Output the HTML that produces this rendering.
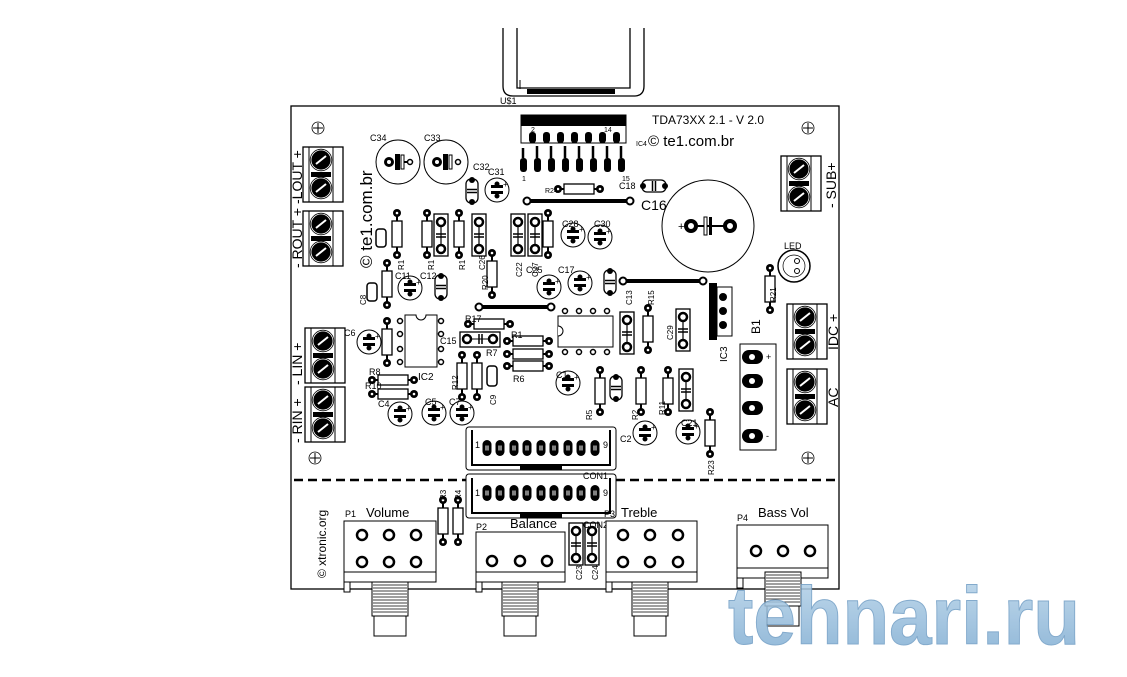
<!DOCTYPE html>
<html><head><meta charset="utf-8"><style>
html,body{margin:0;padding:0;background:#fff;}
svg{display:block;}
text{font-family:"Liberation Sans",sans-serif;fill:#000;}
</style></head><body>
<svg width="1127" height="677" viewBox="0 0 1127 677" xmlns="http://www.w3.org/2000/svg">
<defs>
<g id="pad"><circle r="4" fill="#000"/><circle r="1.3" fill="#fff"/></g>
<g id="rv"><line x1="0" y1="0" x2="0" y2="42" stroke="#000" stroke-width="2"/><rect x="-5" y="8" width="10" height="26" fill="#fff" stroke="#000" stroke-width="1.3"/><use href="#pad" y="0"/><use href="#pad" y="42"/></g>
<g id="rh"><line x1="0" y1="0" x2="42" y2="0" stroke="#000" stroke-width="2"/><rect x="6" y="-5" width="30" height="10" fill="#fff" stroke="#000" stroke-width="1.3"/><use href="#pad" x="0"/><use href="#pad" x="42"/></g>
<g id="cv"><rect x="-7" y="-4" width="14" height="42" fill="#fff" stroke="#000" stroke-width="1.3"/><circle cy="4" r="4" fill="#fff" stroke="#000" stroke-width="2.5"/><circle cy="31" r="4" fill="#fff" stroke="#000" stroke-width="2.5"/><line x1="0" y1="8" x2="0" y2="27" stroke="#000" stroke-width="1.2"/><line x1="-5" y1="16" x2="5" y2="16" stroke="#000" stroke-width="1.5"/><line x1="-5" y1="19" x2="5" y2="19" stroke="#000" stroke-width="1.5"/></g>
<g id="el"><circle r="12" fill="#fff" stroke="#000" stroke-width="1"/><rect x="-6" y="-5" width="12" height="3" fill="#000"/><rect x="-6" y="1" width="12" height="3" fill="#000"/><circle cy="-6" r="2.5" fill="#000"/><circle cy="6" r="2.5" fill="#000"/><text x="6" y="-3" font-size="8">+</text></g>
<g id="sc"><rect x="-6" y="-12" width="12" height="24" rx="5" fill="#fff" stroke="#000" stroke-width="1.3"/><line x1="-5" y1="-1.5" x2="5" y2="-1.5" stroke="#000" stroke-width="1.5"/><line x1="-5" y1="1.5" x2="5" y2="1.5" stroke="#000" stroke-width="1.5"/><circle cy="-11" r="3" fill="#000"/><circle cy="11" r="3" fill="#000"/></g>
<g id="scr"><circle r="10" fill="#000" stroke="#fff" stroke-width="0.8"/><circle r="10.8" fill="none" stroke="#000" stroke-width="0.8"/><line x1="-5" y1="4" x2="5" y2="-4" stroke="#fff" stroke-width="2"/></g>
<g id="tbl"><rect x="0" y="0" width="40" height="55" fill="#fff" stroke="#000" stroke-width="1.3"/><line x1="6" y1="0" x2="6" y2="55" stroke="#000"/><line x1="30" y1="0" x2="30" y2="55" stroke="#000"/><use href="#scr" x="18" y="13"/><use href="#scr" x="18" y="41"/><rect x="8" y="25" width="20" height="5" fill="#000"/></g>
<g id="hole"><circle r="6" fill="#fff" stroke="#000" stroke-width="0.8"/><line x1="-5" y1="0" x2="5" y2="0" stroke="#000"/><line x1="0" y1="-5" x2="0" y2="5" stroke="#000"/></g>
<g id="ph"><circle r="5" fill="#fff" stroke="#000" stroke-width="2.5"/></g>
<g id="cpad"><rect x="-4.5" y="-8" width="9" height="16" rx="4.5" fill="#000"/><rect x="-2" y="-2.5" width="4" height="5" fill="#fff" opacity="0.5"/></g>
<g id="shaft"><rect x="0" y="0" width="36" height="34" fill="#fff" stroke="#000"/>
<path d="M1 3h34M1 6h34M1 9h34M1 12h34M1 15h34M1 18h34M1 21h34M1 24h34M1 27h34M1 30h34" stroke="#000" stroke-width="0.8"/>
<rect x="2" y="34" width="32" height="20" fill="#fff" stroke="#000"/></g>
</defs>

<!-- heatsink -->
<path d="M503 28 V86 Q503 96 513 96 H634 Q644 96 644 86 V28 M630 28 V88 H517 V28" fill="none" stroke="#000" stroke-width="1.3"/>
<path d="M510 28 V90 M637 28 V90" stroke="#000" stroke-width="0" />
<rect x="527" y="89" width="88" height="5" fill="#000"/>
<line x1="520" y1="80" x2="520" y2="89" stroke="#000"/>
<text x="500" y="104" font-size="9">U$1</text>

<!-- board -->
<rect x="291" y="106" width="548" height="483" fill="none" stroke="#000" stroke-width="1.3"/>
<line x1="294" y1="480" x2="836" y2="480" stroke="#000" stroke-width="2.5" stroke-dasharray="9,5"/>

<use href="#hole" x="318" y="128"/><use href="#hole" x="808" y="128"/>
<use href="#hole" x="315" y="458"/><use href="#hole" x="808" y="458"/>

<!-- title -->
<text x="652" y="124" font-size="12">TDA73XX 2.1 - V 2.0</text>
<text x="636" y="146" font-size="7">IC4</text>
<text x="648" y="146" font-size="15">© te1.com.br</text>
<text transform="translate(372,268) rotate(-90)" font-size="17">© te1.com.br</text>
<text transform="translate(326,578) rotate(-90)" font-size="12">© xtronic.org</text>

<!-- terminal blocks left -->
<use href="#tbl" x="303" y="147"/><use href="#tbl" x="303" y="211"/>
<use href="#tbl" x="305" y="328"/><use href="#tbl" x="305" y="387"/>
<text transform="translate(302,204) rotate(-90)" font-size="14">-LOUT +</text>
<text transform="translate(302,268) rotate(-90)" font-size="14">- ROUT +</text>
<text transform="translate(302,385) rotate(-90)" font-size="14">- LIN +</text>
<text transform="translate(302,443) rotate(-90)" font-size="14">- RIN +</text>
<!-- right blocks -->
<use href="#tbl" x="781" y="156"/><use href="#tbl" x="787" y="304"/><use href="#tbl" x="787" y="369"/>
<text transform="translate(836,208) rotate(-90)" font-size="14">- SUB+</text>
<text transform="translate(838,350) rotate(-90)" font-size="14">IDC +</text>
<text transform="translate(838,407) rotate(-90)" font-size="14">AC</text>

<!-- big caps -->
<circle cx="398" cy="162" r="22" fill="#fff" stroke="#000"/><circle cx="446" cy="162" r="22" fill="#fff" stroke="#000"/>
<g stroke="#000" stroke-width="2"><circle cx="389" cy="162" r="3.5" fill="#fff" stroke-width="3"/><rect x="396" y="155" width="3" height="14" fill="#000"/><rect x="401" y="155" width="3" height="14" fill="#fff" stroke-width="1"/><line x1="404" y1="162" x2="408" y2="162"/><circle cx="410" cy="162" r="2.5" fill="#fff" stroke-width="1.5"/>
<circle cx="437" cy="162" r="3.5" fill="#fff" stroke-width="3"/><rect x="444" y="155" width="3" height="14" fill="#000"/><rect x="449" y="155" width="3" height="14" fill="#fff" stroke-width="1"/><circle cx="458" cy="162" r="2.5" fill="#fff" stroke-width="1.5"/></g>
<text x="370" y="141" font-size="9">C34</text><text x="424" y="141" font-size="9">C33</text>
<circle cx="708" cy="226" r="46" fill="#fff" stroke="#000"/>
<circle cx="691" cy="226" r="5" fill="#fff" stroke="#000" stroke-width="4"/><circle cx="730" cy="226" r="5" fill="#fff" stroke="#000" stroke-width="4"/>
<line x1="696" y1="226" x2="725" y2="226" stroke="#000" stroke-width="2"/><rect x="704" y="217" width="3" height="18" fill="#fff" stroke="#000"/><rect x="709" y="217" width="3" height="18" fill="#000"/>
<text x="678" y="230" font-size="11">+</text><text x="641" y="210" font-size="14">C16</text>
<circle cx="794" cy="266" r="16" fill="#fff" stroke="#000" stroke-width="1.5"/><circle cx="794" cy="266" r="11" fill="none" stroke="#000" stroke-width="0.7"/><circle cx="797" cy="261" r="2.5" fill="none" stroke="#000"/><circle cx="797" cy="271" r="2.5" fill="none" stroke="#000"/>
<text x="784" y="249" font-size="9">LED</text>

<!-- IC4 -->
<rect x="521" y="115" width="105" height="11" fill="#000"/>
<rect x="521" y="115" width="105" height="28" fill="none" stroke="#000"/>
<text x="531" y="132" font-size="7">2</text><text x="604" y="132" font-size="7">14</text>
<g fill="#000">
<rect x="529" y="132" width="7" height="11" rx="3"/><rect x="543" y="132" width="7" height="11" rx="3"/><rect x="557" y="132" width="7" height="11" rx="3"/><rect x="571" y="132" width="7" height="11" rx="3"/><rect x="585" y="132" width="7" height="11" rx="3"/><rect x="599" y="132" width="7" height="11" rx="3"/><rect x="613" y="132" width="7" height="11" rx="3"/>
<rect x="520" y="158" width="7" height="14" rx="3"/><rect x="534" y="158" width="7" height="14" rx="3"/><rect x="548" y="158" width="7" height="14" rx="3"/><rect x="562" y="158" width="7" height="14" rx="3"/><rect x="576" y="158" width="7" height="14" rx="3"/><rect x="590" y="158" width="7" height="14" rx="3"/><rect x="604" y="158" width="7" height="14" rx="3"/><rect x="618" y="158" width="7" height="14" rx="3"/>
</g>
<g stroke="#000" stroke-width="2.5"><path d="M523 158 V148 M537 158 V146 M551 158 V146 M565 158 V146 M579 158 V146 M593 158 V146 M607 158 V146 M621 158 V146"/></g>
<text x="522" y="181" font-size="7">1</text><text x="622" y="181" font-size="7">15</text>

<!-- traces -->
<g stroke="#000" stroke-width="4"><line x1="527" y1="201" x2="630" y2="201"/><line x1="623" y1="281" x2="703" y2="281"/><line x1="479" y1="307" x2="551" y2="307"/></g>
<g fill="#fff" stroke="#000" stroke-width="2"><circle cx="527" cy="201" r="3.5"/><circle cx="630" cy="201" r="3.5"/><circle cx="623" cy="281" r="3.5"/><circle cx="703" cy="281" r="3.5"/><circle cx="479" cy="307" r="3.5"/><circle cx="551" cy="307" r="3.5"/></g>

<!-- resistors -->
<use href="#rh" x="558" y="189"/><text x="545" y="193" font-size="7">R24</text>
<use href="#rv" x="397" y="213"/><use href="#rv" x="427" y="213"/><use href="#rv" x="459" y="213"/><use href="#rv" x="548" y="213"/>
<use href="#rv" x="492" y="253"/><use href="#rv" x="387" y="263"/><use href="#rv" x="387" y="321"/>
<use href="#rv" x="462" y="355"/><use href="#rv" x="477" y="355"/>
<use href="#rv" x="600" y="370"/><use href="#rv" x="641" y="370"/><use href="#rv" x="668" y="370"/>
<use href="#rv" x="710" y="412"/><use href="#rv" x="648" y="308"/><use href="#rv" x="770" y="268"/>
<use href="#rv" x="443" y="500"/><use href="#rv" x="458" y="500"/>
<use href="#rh" x="468" y="324"/><use href="#rh" x="507" y="341"/><use href="#rh" x="507" y="354"/><use href="#rh" x="507" y="366"/>
<use href="#rh" x="372" y="380"/><use href="#rh" x="372" y="394"/>
<!-- cap boxes -->
<use href="#cv" x="441" y="218"/><use href="#cv" x="479" y="218"/><use href="#cv" x="518" y="218"/><use href="#cv" x="535" y="218"/>
<use href="#cv" x="627" y="316"/><use href="#cv" x="683" y="313"/><use href="#cv" x="686" y="373"/>
<use href="#cv" x="576" y="527"/><use href="#cv" x="592" y="527"/>
<rect x="460" y="332" width="40" height="15" fill="#fff" stroke="#000" stroke-width="1.3"/><circle cx="467" cy="339" r="4" fill="#fff" stroke="#000" stroke-width="2.5"/><circle cx="493" cy="339" r="4" fill="#fff" stroke="#000" stroke-width="2.5"/><line x1="471" y1="339" x2="489" y2="339" stroke="#000"/><line x1="479" y1="334" x2="479" y2="344" stroke="#000" stroke-width="1.5"/><line x1="482" y1="334" x2="482" y2="344" stroke="#000" stroke-width="1.5"/>
<!-- small caps -->
<use href="#sc" x="472" y="191"/><use href="#sc" x="616" y="388"/><use href="#sc" x="610" y="282"/>
<g transform="translate(654,186) rotate(90)"><use href="#sc"/></g>
<rect x="376" y="229" width="10" height="18" rx="3" fill="#fff" stroke="#000" stroke-width="1.5"/><rect x="367" y="283" width="10" height="18" rx="3" fill="#fff" stroke="#000" stroke-width="1.5"/><rect x="487" y="366" width="10" height="20" rx="3" fill="#fff" stroke="#000" stroke-width="1.5"/>
<use href="#sc" x="441" y="287"/>
<!-- electrolytics -->
<use href="#el" x="497" y="190"/><use href="#el" x="573" y="235"/><use href="#el" x="600" y="237"/>
<use href="#el" x="410" y="288"/><use href="#el" x="549" y="287"/><use href="#el" x="580" y="283"/>
<use href="#el" x="369" y="342"/><use href="#el" x="400" y="414"/><use href="#el" x="434" y="413"/><use href="#el" x="462" y="413"/>
<use href="#el" x="568" y="383"/><use href="#el" x="645" y="433"/><use href="#el" x="688" y="432"/>

<!-- IC1 -->
<rect x="558" y="316" width="55" height="31" fill="#fff" stroke="#000"/>
<path d="M558 326 a5 5 0 0 1 0 10" fill="#fff" stroke="#000"/>
<g fill="#fff" stroke="#000" stroke-width="1.5"><circle cx="565" cy="311" r="2.5"/><circle cx="579" cy="311" r="2.5"/><circle cx="593" cy="311" r="2.5"/><circle cx="607" cy="311" r="2.5"/><circle cx="565" cy="352" r="2.5"/><circle cx="579" cy="352" r="2.5"/><circle cx="593" cy="352" r="2.5"/><circle cx="607" cy="352" r="2.5"/>
<circle cx="400" cy="321" r="2.5"/><circle cx="400" cy="334" r="2.5"/><circle cx="400" cy="349" r="2.5"/><circle cx="400" cy="362" r="2.5"/><circle cx="441" cy="321" r="2.5"/><circle cx="441" cy="334" r="2.5"/><circle cx="441" cy="349" r="2.5"/><circle cx="441" cy="362" r="2.5"/></g>
<!-- IC2 -->
<path d="M405 315 H416 a5 5 0 0 0 10 0 H437 V367 H405 Z" fill="#fff" stroke="#000"/>
<text x="418" y="380" font-size="10">IC2</text>

<!-- IC3 -->
<rect x="709" y="283" width="8" height="57" fill="#000"/><rect x="717" y="287" width="15" height="49" fill="#fff" stroke="#000"/>
<g fill="#000"><circle cx="723" cy="297" r="4"/><circle cx="723" cy="311" r="4"/><circle cx="723" cy="325" r="4"/></g>
<text transform="translate(727,362) rotate(-90)" font-size="10">IC3</text>
<text transform="translate(760,334) rotate(-90)" font-size="12">B1</text>
<!-- B1 -->
<rect x="740" y="344" width="36" height="106" fill="#fff" stroke="#000"/>
<g fill="#000"><rect x="742" y="350" width="21" height="14" rx="7"/><rect x="742" y="374" width="21" height="14" rx="7"/><rect x="742" y="401" width="21" height="14" rx="7"/><rect x="742" y="429" width="21" height="14" rx="7"/></g>
<g fill="#fff"><circle cx="752" cy="357" r="3"/><circle cx="752" cy="381" r="3"/><circle cx="752" cy="408" r="3"/><circle cx="752" cy="436" r="3"/></g>
<text x="766" y="360" font-size="9">+</text><text x="766" y="439" font-size="9">-</text>

<!-- CON1/CON2 -->
<rect x="466" y="427" width="150" height="43" rx="3" fill="#fff" stroke="#000"/><path d="M472 430 V465 H610 V430" fill="none" stroke="#000" stroke-width="2"/>
<rect x="466" y="474" width="150" height="44" rx="3" fill="#fff" stroke="#000"/><path d="M472 478 V513 H610 V478" fill="none" stroke="#000" stroke-width="2"/>
<rect x="520" y="465" width="42" height="5" fill="#000"/><rect x="520" y="513" width="42" height="5" fill="#000"/>
<g><use href="#cpad" x="487" y="448"/><use href="#cpad" x="500" y="448"/><use href="#cpad" x="514" y="448"/><use href="#cpad" x="527" y="448"/><use href="#cpad" x="541" y="448"/><use href="#cpad" x="554" y="448"/><use href="#cpad" x="568" y="448"/><use href="#cpad" x="581" y="448"/><use href="#cpad" x="595" y="448"/>
<use href="#cpad" x="487" y="493"/><use href="#cpad" x="500" y="493"/><use href="#cpad" x="514" y="493"/><use href="#cpad" x="527" y="493"/><use href="#cpad" x="541" y="493"/><use href="#cpad" x="554" y="493"/><use href="#cpad" x="568" y="493"/><use href="#cpad" x="581" y="493"/><use href="#cpad" x="595" y="493"/></g>
<text x="475" y="448" font-size="9">1</text><text x="603" y="448" font-size="9">9</text><text x="475" y="496" font-size="9">1</text><text x="603" y="496" font-size="9">9</text>
<text x="583" y="479" font-size="9">CON1</text><text x="583" y="528" font-size="9">CON2</text>

<!-- pots -->
<rect x="344" y="521" width="92" height="51" fill="#fff" stroke="#000"/><rect x="344" y="572" width="92" height="10" fill="#fff" stroke="#000"/><rect x="344" y="582" width="6" height="10" fill="#fff" stroke="#000"/>
<use href="#ph" x="362" y="535"/><use href="#ph" x="389" y="535"/><use href="#ph" x="416" y="535"/><use href="#ph" x="362" y="562"/><use href="#ph" x="389" y="562"/><use href="#ph" x="416" y="562"/>
<use href="#shaft" x="372" y="582"/>
<text x="345" y="517" font-size="9">P1</text><text x="366" y="517" font-size="13">Volume</text>

<rect x="476" y="532" width="89" height="40" fill="#fff" stroke="#000"/><rect x="476" y="572" width="89" height="10" fill="#fff" stroke="#000"/><rect x="476" y="582" width="6" height="10" fill="#fff" stroke="#000"/>
<use href="#ph" x="492" y="561"/><use href="#ph" x="520" y="561"/><use href="#ph" x="547" y="561"/>
<use href="#shaft" x="502" y="582"/>
<text x="476" y="530" font-size="9">P2</text><text x="510" y="528" font-size="13">Balance</text>

<rect x="606" y="521" width="91" height="51" fill="#fff" stroke="#000"/><rect x="606" y="572" width="91" height="10" fill="#fff" stroke="#000"/><rect x="606" y="582" width="6" height="10" fill="#fff" stroke="#000"/>
<use href="#ph" x="623" y="535"/><use href="#ph" x="650" y="535"/><use href="#ph" x="678" y="535"/><use href="#ph" x="623" y="562"/><use href="#ph" x="650" y="562"/><use href="#ph" x="678" y="562"/>
<use href="#shaft" x="632" y="582"/>
<text x="604" y="517" font-size="9">P3</text><text x="621" y="517" font-size="13">Treble</text>

<rect x="737" y="525" width="91" height="43" fill="#fff" stroke="#000"/><rect x="737" y="568" width="91" height="10" fill="#fff" stroke="#000"/><rect x="737" y="578" width="6" height="10" fill="#fff" stroke="#000"/>
<use href="#ph" x="756" y="551"/><use href="#ph" x="783" y="551"/><use href="#ph" x="810" y="551"/>
<use href="#shaft" x="765" y="572"/>
<text x="737" y="521" font-size="9">P4</text><text x="758" y="517" font-size="13">Bass Vol</text>

<!-- labels -->
<g font-size="9">
<text x="473" y="170">C32</text><text x="488" y="175">C31</text><text x="619" y="189">C18</text>
<text x="562" y="227">C28</text><text x="594" y="227">C30</text>
<text x="395" y="279">C11</text><text x="420" y="279">C12</text><text x="526" y="273">C25</text><text x="558" y="273">C17</text>
<text x="465" y="322">R17</text><text x="511" y="338">R1</text><text x="486" y="356">R7</text><text x="513" y="382">R6</text>
<text x="440" y="344">C15</text><text x="369" y="375">R8</text><text x="365" y="389">R10</text>
<text x="378" y="407">C4</text><text x="425" y="405">C5</text><text x="449" y="405">C7</text><text x="556" y="378">C1</text>
<text x="620" y="442">C2</text><text x="681" y="426">C21</text><text x="344" y="336">C6</text>
</g>
<g font-size="8">
<text transform="translate(404,270) rotate(-90)">R1</text><text transform="translate(434,270) rotate(-90)">R1</text><text transform="translate(465,270) rotate(-90)">R1</text>
<text transform="translate(485,270) rotate(-90)">C26</text><text transform="translate(522,277) rotate(-90)">C22</text><text transform="translate(538,277) rotate(-90)">C27</text>
<text transform="translate(488,290) rotate(-90)">R20</text><text transform="translate(632,305) rotate(-90)">C13</text><text transform="translate(654,305) rotate(-90)">R15</text>
<text transform="translate(673,340) rotate(-90)">C29</text><text transform="translate(776,302) rotate(-90)">R21</text><text transform="translate(714,475) rotate(-90)">R23</text>
<text transform="translate(458,390) rotate(-90)">R12</text><text transform="translate(496,405) rotate(-90)">C9</text><text transform="translate(592,420) rotate(-90)">R5</text>
<text transform="translate(638,420) rotate(-90)">R2</text><text transform="translate(665,415) rotate(-90)">R11</text><text transform="translate(366,305) rotate(-90)">C8</text>
<text transform="translate(582,580) rotate(-90)">C23</text><text transform="translate(598,580) rotate(-90)">C24</text>
<text transform="translate(446,500) rotate(-90)">R3</text><text transform="translate(461,500) rotate(-90)">R4</text>
</g>

<!-- watermark -->
<defs><linearGradient id="wm" x1="0" y1="0" x2="0" y2="1"><stop offset="0" stop-color="#b9d5ea"/><stop offset="1" stop-color="#7aa9d0"/></linearGradient></defs>
<text x="728" y="644" font-size="82" font-weight="bold" textLength="352" lengthAdjust="spacingAndGlyphs" style="fill:url(#wm)" stroke="#6e9cc4" stroke-width="1" opacity="0.85">tehnari.ru</text>
</svg>
</body></html>
